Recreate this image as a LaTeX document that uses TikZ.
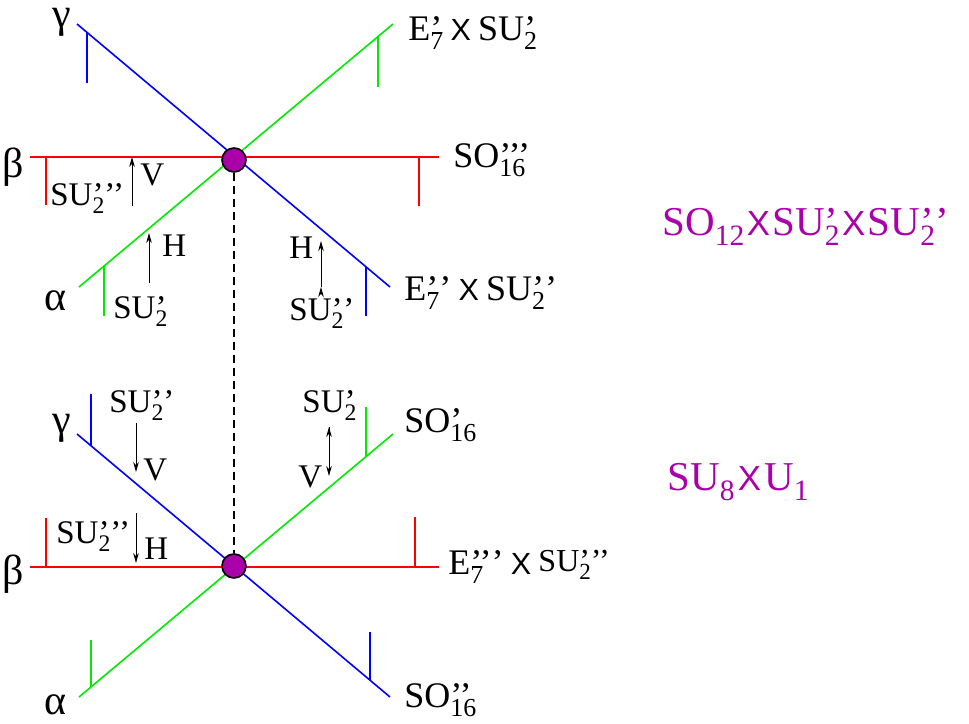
\documentclass[tikz,border=0pt]{standalone}
\usepackage{fontspec}
\usepackage{graphicx}
\setmainfont{Liberation Serif}
\newfontfamily\xsans{Liberation Sans}
\usetikzlibrary{arrows.meta}

\definecolor{vtxc}{RGB}{170,0,170}
\definecolor{lgreen}{RGB}{0,235,0}

% primes over a lowered index, then trailing primes
\newcommand{\stk}[2]{%
  \setbox0\hbox{#2}%
  \setbox2\hbox{\raisebox{-0.25em}{\scalebox{0.72}{#1}}}%
  \ifdim\wd0>\wd2 \rlap{\box2}\box0 \else \rlap{\box0}\box2 \fi}
\newcommand{\grp}[4][]{#2\stk{#3}{#4}#1}
\newcommand{\cross}[1][0.2em]{\hspace{#1}\scalebox{0.85}{\xsans X}\hspace{#1}}

\tikzset{
  brane/.style={line width=0.8pt},
  flow/.style={-{Stealth[length=5pt,width=2.8pt]},draw=black,line width=0.45pt},
  vtx/.style={shape=circle,draw=black,fill=vtxc,line width=0.8pt,minimum size=12pt,inner sep=0pt},
  lbl/.style={inner sep=0pt,anchor=base west,font=\fontsize{18}{20}\selectfont},
  sml/.style={inner sep=0pt,anchor=base west,font=\fontsize{16.5}{18}\selectfont},
  grk/.style={inner sep=0pt,font=\fontsize{21}{22}\selectfont},
  brk/.style={inner sep=0pt,anchor=base west,text=vtxc,font=\fontsize{20.5}{22}\selectfont},
}

\begin{document}
\begin{tikzpicture}[x=0.5pt,y=-0.5pt]
\useasboundingbox (0,0) rectangle (969,723);

% upper junction
\coordinate (gT0) at (77,24);   \coordinate (gT1) at (390,287);
\coordinate (bT0) at (30,157);  \coordinate (bT1) at (439,157);
\coordinate (aT0) at (79,287);  \coordinate (aT1) at (393,24);
\coordinate (tT1a) at (87,32.4);   \coordinate (tT1b) at (87,83);
\coordinate (tT2a) at (366,266.8); \coordinate (tT2b) at (366,316);
\coordinate (tT3a) at (378,36.6);  \coordinate (tT3b) at (378,87);
\coordinate (tT4a) at (104,266);   \coordinate (tT4b) at (104,316);
\coordinate (tT5a) at (46,157);    \coordinate (tT5b) at (46,205);
\coordinate (tT6a) at (419,157);   \coordinate (tT6b) at (419,206);
\coordinate (fT1a) at (132,206);   \coordinate (fT1b) at (132,157);
\coordinate (fT2a) at (149,283);   \coordinate (fT2b) at (149,233);
\coordinate (fT3a) at (321,287);   \coordinate (fT3b) at (321,241);

% lower junction
\coordinate (gB0) at (77,434);  \coordinate (gB1) at (390,697);
\coordinate (bB0) at (30,567);  \coordinate (bB1) at (439,567);
\coordinate (aB0) at (79,697);  \coordinate (aB1) at (393,434);
\coordinate (tB1a) at (91,445.8);  \coordinate (tB1b) at (91,394);
\coordinate (tB2a) at (370,680);   \coordinate (tB2b) at (370,632);
\coordinate (tB3a) at (91,687);    \coordinate (tB3b) at (91,640);
\coordinate (tB4a) at (366,456.6); \coordinate (tB4b) at (366,407);
\coordinate (tB5a) at (46,567);    \coordinate (tB5b) at (46,518);
\coordinate (tB6a) at (415,567);   \coordinate (tB6b) at (415,517);
\coordinate (fB1a) at (136,423);   \coordinate (fB1b) at (136,472);
\coordinate (fB2a) at (136,513);   \coordinate (fB2b) at (136,563);
\coordinate (fB3a) at (329,427);   \coordinate (fB3b) at (329,476);

\path [brane,draw=blue] (gT0) edge (gT1) (tT1a) edge (tT1b) (tT2a) edge (tT2b);
\path [brane,draw=red] (bT0) edge (bT1) (tT5a) edge (tT5b) (tT6a) edge (tT6b);
\path [brane,draw=lgreen] (aT0) edge (aT1) (tT3a) edge (tT3b) (tT4a) edge (tT4b);
\path [brane,draw=blue] (gB0) edge (gB1) (tB1a) edge (tB1b) (tB2a) edge (tB2b);
\path [brane,draw=red] (bB0) edge (bB1) (tB5a) edge (tB5b) (tB6a) edge (tB6b);
\path [brane,draw=lgreen] (aB0) edge (aB1) (tB3a) edge (tB3b) (tB4a) edge (tB4b);

\path [flow] (fT1a) edge (fT1b) (fT2a) edge (fT2b) (fT3a) edge (fT3b);
\path [flow] (fB1a) edge (fB1b) (fB2a) edge (fB2b) (fB3a) edge (fB3b);

\node[vtx] (vT) at (234,160) {};
\node[vtx] (vB) at (234,566) {};
\path [draw=black,line width=0.6pt,dash pattern=on 4pt off 2.5pt] (vT) edge (vB);

% upper labels
\node[grk] (gmT) at (62,22) {γ};
\node[grk] (btT) at (13,167) {β};
\node[grk] (alT) at (56,301) {α};
\node[lbl] (e7a) at (408,40) {\grp{E}{7}{’}\cross\grp{SU}{2}{’}};
\node[lbl] (so3) at (453,167) {\grp{SO}{16}{’’’}};
\node[lbl] (e7b) at (404,300) {\grp[’]{E}{7}{’}\cross\grp[’]{SU}{2}{’}};
\node[sml] (su3T) at (50,205) {\grp[’’]{SU}{2}{’}};
\node[sml] (vT1) at (140,185) {V};
\node[sml] (hT1) at (162,256) {H};
\node[sml] (su1T) at (113,318) {\grp{SU}{2}{’}};
\node[sml] (hT2) at (289,258) {H};
\node[sml] (su2T) at (289,320) {\grp[’]{SU}{2}{’}};

% lower labels
\node[grk] (gmB) at (62,428) {γ};
\node[grk] (btB) at (13,574) {β};
\node[grk] (alB) at (56,705) {α};
\node[sml] (su2B) at (109,412) {\grp[’]{SU}{2}{’}};
\node[sml] (vB1) at (143,480) {V};
\node[sml] (su3B) at (56,543) {\grp[’’]{SU}{2}{’}};
\node[sml] (hB1) at (144,559) {H};
\node[sml] (su1B) at (302,412) {\grp{SU}{2}{’}};
\node[sml] (vB2) at (298,487) {V};
\node[lbl] (so1) at (404,432) {\grp{SO}{16}{’}};
\node[lbl] (e7c) at (448,574) {\grp[’]{E}{7}{’’}\cross\raisebox{1.5pt}{\fontsize{16}{18}\selectfont\grp[’’]{SU}{2}{’}}};
\node[lbl] (so2) at (404,707) {\grp{SO}{16}{’’}};

% breaking patterns
\node[brk] (symT) at (662,235) {\grp{SO}{12}{}\cross[0.06em]\grp{SU}{2}{’}\cross[0.06em]\grp[’]{SU}{2}{’}};
\node[brk] (symB) at (667,490) {\grp{SU}{8}{}\cross[0.08em]\grp{U}{1}{}};
\end{tikzpicture}
\end{document}
